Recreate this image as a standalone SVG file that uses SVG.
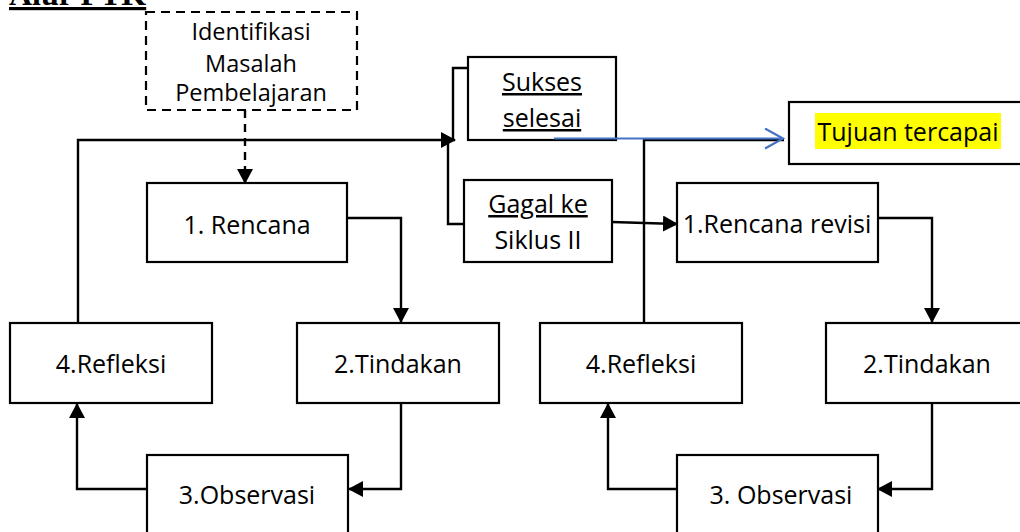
<svg xmlns="http://www.w3.org/2000/svg" width="1020" height="532" viewBox="0 0 1020 532">
<style>
.box{fill:#fff;stroke:#000;stroke-width:2.2}
.dash{fill:#fff;stroke:#000;stroke-width:2.2;stroke-dasharray:9,6}
.t{font-family:"Open Sans","Noto Sans","Liberation Sans",sans-serif;font-size:25px;fill:#000;text-anchor:middle}
.s{font-size:23.5px}
.u{text-decoration:underline}
.c{fill:none;stroke:#000;stroke-width:2.4}
</style>
<defs>
<marker id="ah" markerUnits="userSpaceOnUse" markerWidth="15" markerHeight="16" refX="14" refY="8" orient="auto">
<path d="M0,0 L15,8 L0,16 z" fill="#000"/>
</marker>
<marker id="ob" markerUnits="userSpaceOnUse" markerWidth="22" markerHeight="24" refX="19" refY="11" orient="auto">
<path d="M1,1 L19,11 L1,21" fill="none" stroke="#4472C4" stroke-width="2.2"/>
</marker>
</defs>
<rect width="1020" height="532" fill="#fff"/>
<g id="title">
<text x="9" y="5" font-family="Liberation Serif,serif" font-weight="bold" font-size="32" class="u">Alur PTK</text>
</g>
<g id="connectors">
<path class="c" d="M245,110 V183" stroke-dasharray="8,6" marker-end="url(#ah)"/>
<path class="c" d="M347,218 H401 V322" marker-end="url(#ah)"/>
<path class="c" d="M401,403 V489 H349" marker-end="url(#ah)"/>
<path class="c" d="M147,489 H77 V404" marker-end="url(#ah)"/>
<path class="c" d="M78,322 V140 H455" marker-end="url(#ah)"/>
<path class="c" d="M468,68 H453 V140"/>
<path class="c" d="M448,140 V224 H464"/>
<path class="c" d="M612,222 L677,224" marker-end="url(#ah)"/>
<path class="c" d="M878,218 H932 V322" marker-end="url(#ah)"/>
<path class="c" d="M932,403 V489 H878" marker-end="url(#ah)"/>
<path class="c" d="M676,489 H608 V404" marker-end="url(#ah)"/>
<path class="c" d="M644,322 V140 H784"/>
</g>
<g id="identifikasi">
<rect class="dash" x="146" y="12" width="211" height="98"/>
<text class="t s" x="251" y="40">Identifikasi</text>
<text class="t s" x="251" y="72">Masalah</text>
<text class="t s" x="251" y="101">Pembelajaran</text>
</g>
<g id="rencana1">
<rect class="box" x="147" y="183" width="200" height="79"/>
<text class="t" x="247" y="234">1. Rencana</text>
</g>
<g id="tindakan1">
<rect class="box" x="297" y="323" width="202" height="80"/>
<text class="t" x="398" y="373">2.Tindakan</text>
</g>
<g id="observasi1">
<rect class="box" x="147" y="455" width="201" height="80"/>
<text class="t" x="247" y="504">3.Observasi</text>
</g>
<g id="refleksi1">
<rect class="box" x="10" y="323" width="202" height="80"/>
<text class="t" x="111" y="373">4.Refleksi</text>
</g>
<g id="sukses">
<rect class="box" x="468" y="57" width="148" height="83"/>
<text class="t u" x="542" y="91">Sukses</text>
<text class="t u" x="542" y="127">selesai</text>
</g>
<g id="gagal">
<rect class="box" x="464" y="180" width="148" height="82"/>
<text class="t u" x="538" y="213">Gagal ke</text>
<text class="t" x="538" y="249">Siklus II</text>
</g>
<g id="blue-connector">
<path d="M554,138.5 H783" fill="none" stroke="#4472C4" stroke-width="2.2" marker-end="url(#ob)"/>
</g>
<g id="tujuan">
<rect class="box" x="789" y="102" width="240" height="62"/>
<rect x="815" y="113" width="186" height="36" fill="#ffff00"/>
<text class="t" x="908" y="141">Tujuan tercapai</text>
</g>
<g id="rencana2">
<rect class="box" x="677" y="183" width="201" height="79"/>
<text class="t" x="777" y="233">1.Rencana revisi</text>
</g>
<g id="tindakan2">
<rect class="box" x="826" y="323" width="202" height="80"/>
<text class="t" x="927" y="373">2.Tindakan</text>
</g>
<g id="observasi2">
<rect class="box" x="677" y="455" width="201" height="80"/>
<text class="t" x="781" y="504">3. Observasi</text>
</g>
<g id="refleksi2">
<rect class="box" x="540" y="323" width="202" height="80"/>
<text class="t" x="641" y="373">4.Refleksi</text>
</g>
</svg>
